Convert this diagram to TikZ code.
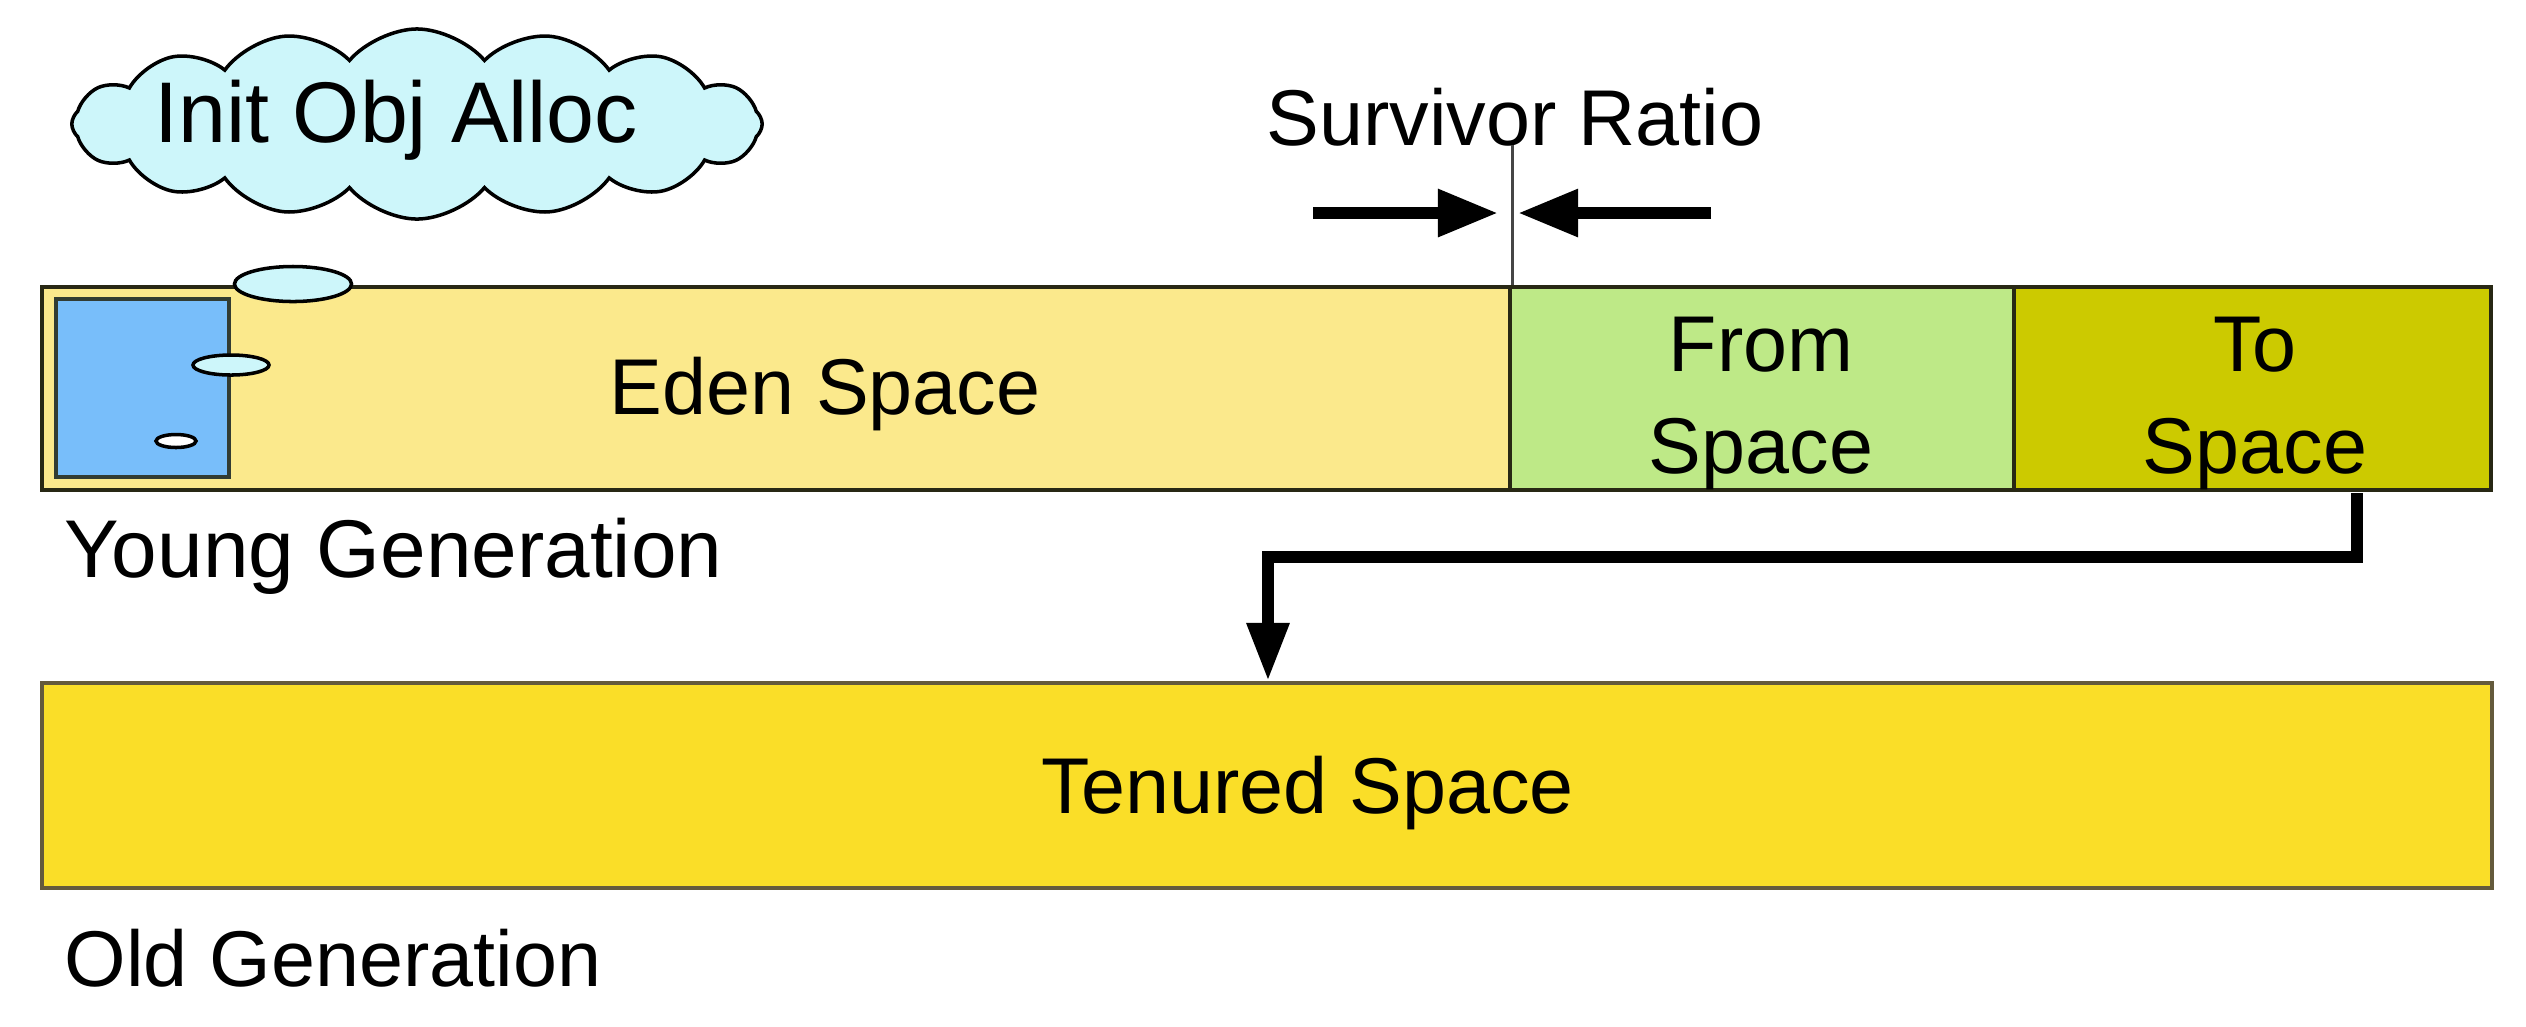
\documentclass[tikz,border=0pt]{standalone}
\usepackage{fontspec}
\setmainfont{Liberation Sans}
\usetikzlibrary{shapes.symbols,shapes.geometric,arrows.meta}
\definecolor{edenc}{RGB}{251,233,140}
\definecolor{fromc}{RGB}{190,233,135}
\definecolor{toc}{RGB}{204,202,0}
\definecolor{tenc}{RGB}{250,222,40}
\definecolor{objc}{RGB}{120,190,250}
\definecolor{cloudc}{RGB}{205,246,250}
\definecolor{edgec}{RGB}{40,40,20}
\definecolor{tenedge}{RGB}{100,90,60}

\begin{document}
\begin{tikzpicture}[x=0.01cm,y=-0.01cm,
  region/.style={draw=edgec, line width=1pt, anchor=north west, inner sep=0pt},
  lbl/.style={font=\fontsize{22.5}{29}\selectfont, align=center, inner sep=0pt},
  puff/.style={ellipse, draw=black, line width=1pt, fill=cloudc, inner sep=0pt},
  bigarrow/.style={line width=3.4pt, -{Triangle[length=0.6cm,width=0.45cm]}},
  conn/.style={line width=3.4pt, -{Triangle[length=0.58cm,width=0.4cm]}}]
\useasboundingbox (0,0) rectangle (2526,1026);

% thought cloud for the first allocation
\node[cloud, cloud puffs=16, cloud puff arc=100, aspect=3.6, draw=black,
      line width=1pt, fill=cloudc, minimum width=6.9cm, minimum height=1.9cm,
      inner sep=0pt] (cloud) at (417,124) {};
\node[font=\fontsize{24.5}{29}\selectfont, anchor=base, inner sep=0pt]
      (cloudtxt) at (396,142) {Init Obj Alloc};

% young generation
\node[region, fill=edenc, minimum width=14.68cm, minimum height=2.03cm] (eden) at (40,285) {};
\node[region, fill=fromc, minimum width=5.04cm, minimum height=2.03cm] (fromsp) at (1508,285) {};
\node[region, fill=toc, minimum width=4.77cm, minimum height=2.03cm] (tosp) at (2012,285) {};
\node[region, draw={rgb,255:red,50;green,60;blue,50}, fill=objc, minimum width=1.73cm, minimum height=1.78cm] (obj) at (54,297) {};

\node[lbl, anchor=base] (edentxt) at (825,414) {Eden Space};
\node[lbl] (fromtxt) at (1761,403) {From\\Space};
\node[lbl] (totxt) at (2255,403) {To\\Space};
\node[lbl, font=\fontsize{23.3}{29}\selectfont, anchor=base west] (young) at (64,577) {Young Generation};

% bubbles trailing from the cloud into eden
\node[puff, minimum width=1.17cm, minimum height=0.35cm] (b1) at (293,284) {};
\node[puff, minimum width=0.76cm, minimum height=0.2cm] (b2) at (231,365) {};
\node[puff, fill=white, minimum width=0.4cm, minimum height=0.13cm] (b3) at (176,441) {};

% survivor ratio marker
\node[lbl, anchor=base] (ratio) at (1515,145) {Survivor Ratio};
\draw[line width=1pt, draw={rgb,255:red,70;green,70;blue,70}] (ratio.base -| eden.north east) -- (eden.north east);
\coordinate (rl) at (1313,213);
\coordinate (rltip) at (1498,213);
\coordinate (rr) at (1711,213);
\coordinate (rrtip) at (1518,213);
\draw[bigarrow] (rl) -- (rltip);
\draw[bigarrow] (rr) -- (rrtip);

% old generation
\node[region, draw=tenedge, fill=tenc, minimum width=24.49cm, minimum height=2.05cm] (tenured) at (40,681) {};
\node[lbl, anchor=base] (tentxt) at (1308,813) {Tenured Space};
\node[lbl, anchor=base west] (old) at (64,986) {Old Generation};

% promotion from the survivor space
\coordinate (tsout) at (2357,493);
\coordinate (bend) at (1268,557);
\draw[conn] (tsout) |- (bend) -- (bend |- tenured.north);
\end{tikzpicture}
\end{document}
